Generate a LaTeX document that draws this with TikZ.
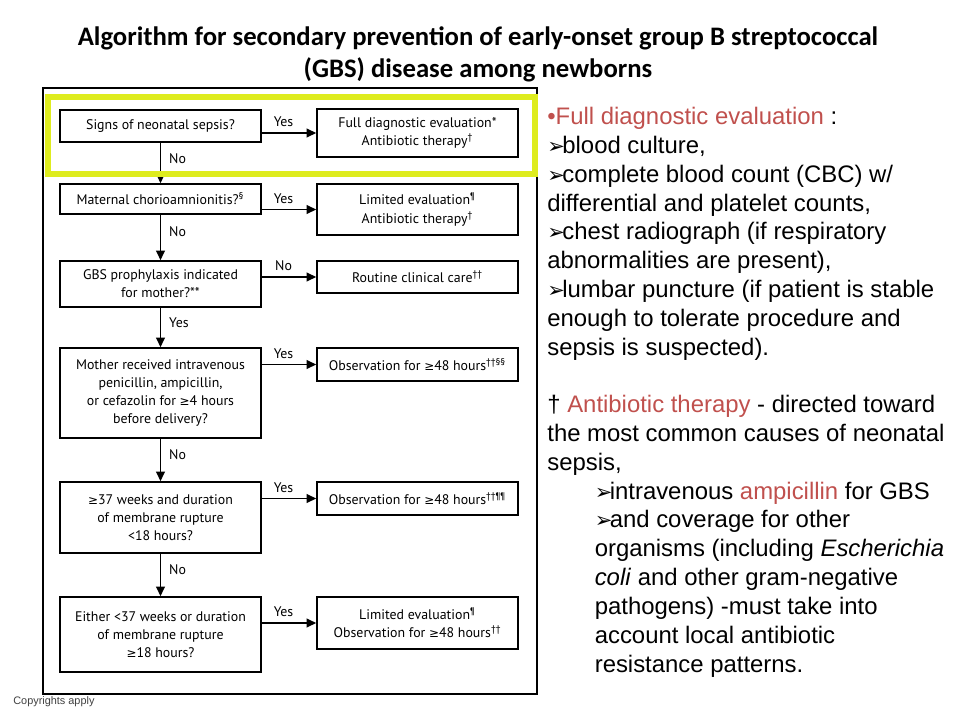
\documentclass[tikz,border=0pt]{standalone}
\usepackage{fontspec}
\setmainfont{PT Sans}
\newfontfamily\titlefont{Carlito}
\newfontfamily\notefont{Liberation Sans}
\newfontfamily\symfont{DejaVu Sans}
\usepackage{xcolor}
\usetikzlibrary{arrows.meta, calc, positioning}
\definecolor{hilite}{RGB}{222,236,30}
\definecolor{notered}{RGB}{192,80,77}
\newcommand{\arrowbul}{{\symfont\fontsize{12}{12}\selectfont ➢}\kern-1.5pt}
\newcommand{\gte}{{\symfont\fontsize{6.8}{10}\selectfont ≥}}

\begin{document}
\begin{tikzpicture}[x=0.02cm, y=-0.02cm, >={Triangle[length=5.5pt, width=5pt]},
  every node/.style={font=\fontsize{7.9}{10.4}\selectfont},
  question/.style={draw, line width=0.9pt, align=center, minimum width=4.02cm, inner sep=1pt},
  action/.style={draw, line width=0.9pt, align=center, minimum width=4.02cm, inner sep=1pt},
  flow/.style={->, line width=0.9pt},
  lbl/.style={inner sep=1pt},
  notes/.style={anchor=north west, align=left, inner sep=0pt, font=\notefont\fontsize{13.6}{16.4}\selectfont}]
  \useasboundingbox (0,0) rectangle (960,720);
  \node[font=\titlefont\bfseries\fontsize{15.2}{18.1}\selectfont, align=center] (title) at (478,54) {Algorithm for secondary prevention of early-onset group B streptococcal\\(GBS) disease among newborns};
  \draw[line width=0.9pt] (43,88) rectangle (537,694);

  \node[question, minimum height=0.64cm] (sepsis) at (160.5,126) {Signs of neonatal sepsis?};
  \node[question, minimum height=0.6cm] (chorio) at (160.5,199) {Maternal chorioamnionitis?\textsuperscript{§}};
  \node[question, minimum height=0.92cm] (gbsproph) at (160.5,284) {GBS prophylaxis indicated\\for mother?**};
  \node[question, minimum height=1.8cm] (ivabx) at (160.5,393) {Mother received intravenous\\penicillin, ampicillin,\\or cefazolin for \gte 4 hours\\before delivery?};
  \node[question, minimum height=1.42cm] (term) at (160.5,517.5) {\gte 37 weeks and duration\\of membrane rupture\\<18 hours?};
  \node[question, minimum height=1.5cm] (preterm) at (160.5,634.5) {Either <37 weeks or duration\\of membrane rupture\\\gte 18 hours?};

  \node[action, minimum height=0.96cm] (fullevalbox) at (417.5,133) {Full diagnostic evaluation*\\Antibiotic therapy\textsuperscript{†}};
  \node[action, minimum height=1.02cm] (limitedabx) at (417.5,209.5) {Limited evaluation\textsuperscript{¶}\\Antibiotic therapy\textsuperscript{†}};
  \node[action, minimum height=0.64cm] (routine) at (417.5,277) {Routine clinical care\textsuperscript{††}};
  \node[action, minimum height=0.66cm] (obsa) at (417.5,364.5) {Observation for \gte 48 hours\textsuperscript{††§§}};
  \node[action, minimum height=0.66cm] (obsb) at (417.5,498.5) {Observation for \gte 48 hours\textsuperscript{††¶¶}};
  \node[action, minimum height=1.04cm] (limitedobs) at (417.5,623) {Limited evaluation\textsuperscript{¶}\\Observation for \gte 48 hours\textsuperscript{††}};

  \draw[flow] (sepsis.east |- fullevalbox.west) -- (fullevalbox.west) node[lbl, pos=0.4, above=2pt] {Yes};
  \draw[flow] (chorio.east |- limitedabx.west) -- (limitedabx.west) node[lbl, pos=0.4, above=2pt] {Yes};
  \draw[flow] (gbsproph.east |- routine.west) -- (routine.west) node[lbl, pos=0.4, above=2pt] {No};
  \draw[flow] (ivabx.east |- obsa.west) -- (obsa.west) node[lbl, pos=0.4, above=2pt] {Yes};
  \draw[flow] (term.east |- obsb.west) -- (obsb.west) node[lbl, pos=0.4, above=2pt] {Yes};
  \draw[flow] (preterm.east |- limitedobs.west) -- (limitedobs.west) node[lbl, pos=0.4, above=2pt] {Yes};

  \draw[flow] (sepsis) -- (chorio) node[lbl, pos=0.38, right=3.5pt] {No};
  \draw[flow] (chorio) -- (gbsproph) node[lbl, pos=0.38, right=3.5pt] {No};
  \draw[flow] (gbsproph) -- (ivabx) node[lbl, pos=0.38, right=3.5pt] {Yes};
  \draw[flow] (ivabx) -- (term) node[lbl, pos=0.38, right=3.5pt] {No};
  \draw[flow] (term) -- (preterm) node[lbl, pos=0.38, right=3.5pt] {No};

  \draw[hilite, line width=3.4pt] (48,97) rectangle (535,174);

  \node[notes] (fulleval) at (547,107) {{\color{notered}•Full diagnostic evaluation} :\\
    \arrowbul blood culture,\\
    \arrowbul complete blood count (CBC) w/\\
    differential and platelet counts,\\
    \arrowbul chest radiograph (if respiratory\\
    abnormalities are present),\\
    \arrowbul lumbar puncture (if patient is stable\\
    enough to tolerate procedure and\\
    sepsis is suspected).};
  \node[notes] (abxnote) at (547,395) {† {\color{notered}Antibiotic therapy} - directed toward\\
    the most common causes of neonatal\\
    sepsis,\\
    \hspace*{27pt}\arrowbul intravenous {\color{notered}ampicillin} for GBS\\
    \hspace*{27pt}\arrowbul and coverage for other\\
    \hspace*{27pt}organisms (including \textit{Escherichia}\\
    \hspace*{27pt}\textit{coli} and other gram-negative\\
    \hspace*{27pt}pathogens) -must take into\\
    \hspace*{27pt}account local antibiotic\\
    \hspace*{27pt}resistance patterns.};

  \node[font=\notefont\fontsize{6.2}{7}\selectfont, text=black!75, anchor=west, inner sep=0pt] (copyright) at (13,702) {Copyrights apply};
\end{tikzpicture}
\end{document}
